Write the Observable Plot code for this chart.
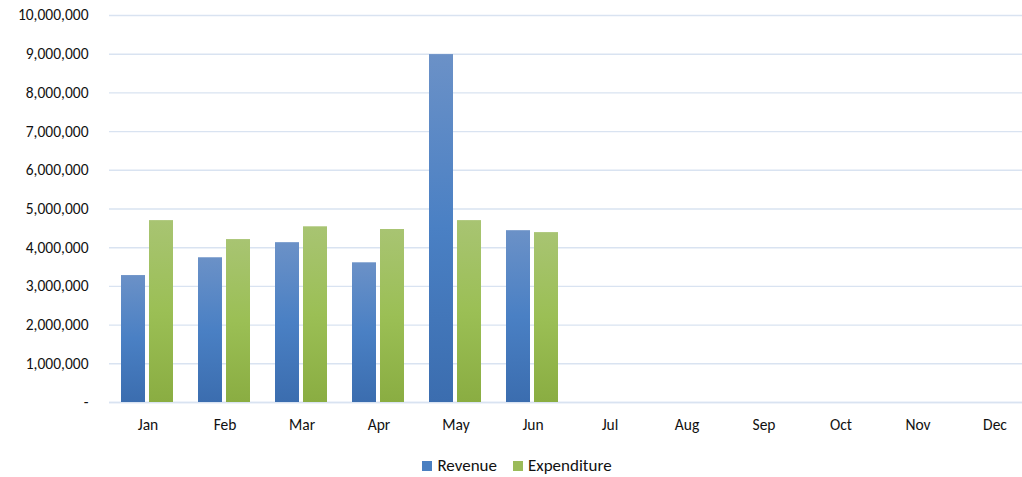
<!DOCTYPE html>
<html>
<head>
<meta charset="utf-8">
<script src="https://cdn.jsdelivr.net/npm/d3@7"></script>
<script src="https://cdn.jsdelivr.net/npm/@observablehq/plot@0.6"></script>
<style>
  html, body { margin: 0; padding: 0; background: #fff; }
  body { width: 1022px; height: 477px; overflow: hidden; font-family: Carlito, Lato, "Open Sans", sans-serif; }
  #legend { height: 37px; display: flex; justify-content: center; align-items: flex-start; padding-top: 15px; box-sizing: border-box; font-size: 17px; color: #111; margin-left: 12px; }
  #legend .item { display: flex; align-items: center; margin: 0 8px; }
  #legend .sw { width: 10px; height: 10px; margin-right: 5px; }
</style>
</head>
<body>
<div id="chart"></div>
<div id="legend"></div>
<script>
const months = ["Jan","Feb","Mar","Apr","May","Jun","Jul","Aug","Sep","Oct","Nov","Dec"];
const dataMonths = ["Jan","Feb","Mar","Apr","May","Jun"];
const series = ["Revenue","Expenditure"];
const revenue = [3280000, 3740000, 4130000, 3610000, 8990000, 4440000];
const expenditure = [4700000, 4210000, 4540000, 4470000, 4700000, 4390000];
const yTicks = [0,1000000,2000000,3000000,4000000,5000000,6000000,7000000,8000000,9000000,10000000];

const colors = {Revenue: "#4a7fc1", Expenditure: "#9bbb59"};
const gradIds = {Revenue: "gradRev", Expenditure: "gradExp"};

const rows = [];
dataMonths.forEach((m, i) => {
  rows.push({month: m, series: "Revenue", value: revenue[i]});
  rows.push({month: m, series: "Expenditure", value: expenditure[i]});
});

const defs = () => {
  const svg = d3.create("svg:defs");
  const g1 = svg.append("linearGradient").attr("id", "gradRev").attr("x1", 0).attr("y1", 0).attr("x2", 0).attr("y2", 1);
  g1.append("stop").attr("offset", "0%").attr("stop-color", "#6b91c7");
  g1.append("stop").attr("offset", "50%").attr("stop-color", "#4a80c4");
  g1.append("stop").attr("offset", "100%").attr("stop-color", "#3b6daf");
  const g2 = svg.append("linearGradient").attr("id", "gradExp").attr("x1", 0).attr("y1", 0).attr("x2", 0).attr("y2", 1);
  g2.append("stop").attr("offset", "0%").attr("stop-color", "#a8c472");
  g2.append("stop").attr("offset", "50%").attr("stop-color", "#9bbf55");
  g2.append("stop").attr("offset", "100%").attr("stop-color", "#8aad42");
  return svg.node();
};

const fmt = d => d === 0 ? "-" : d3.format(",")(d);

const chart = Plot.plot({
  width: 1022,
  height: 440,
  marginLeft: 107,
  marginRight: -13,
  marginTop: 15,
  marginBottom: 38,
  style: {fontFamily: "Carlito, Lato, 'Open Sans', sans-serif", fontSize: "15.5px", color: "#111", background: "#fff"},
  fx: {domain: months, paddingInner: 0, paddingOuter: 0, label: null},
  x: {domain: series, paddingInner: 0.138, paddingOuter: 0.402, axis: null},
  y: {domain: [0, 10000000], label: null},
  marks: [
    defs,
    Plot.gridY(yTicks, {stroke: "#d9e3f1", strokeWidth: 1.4, strokeOpacity: 1}),
    Plot.ruleY(months, {fx: d => d, y: () => 0, stroke: "#d9e3f1", strokeWidth: 1.6}),
    Plot.axisY(yTicks, {tickSize: 0, tickPadding: 21, fontSize: "15.5px", tickFormat: fmt, label: null}),
    Plot.axisFx({anchor: "bottom", tickSize: 0, tickPadding: 16, fontSize: "15.5px", label: null}),
    Plot.barY(rows, {fx: "month", x: "series", y: "value", fill: d => `url(#${gradIds[d.series]})`})
  ]
});
document.getElementById("chart").appendChild(chart);

const legend = document.getElementById("legend");
series.forEach(s => {
  const item = document.createElement("div");
  item.className = "item";
  const sw = document.createElement("div");
  sw.className = "sw";
  sw.style.background = colors[s];
  const t = document.createElement("span");
  t.textContent = s;
  item.appendChild(sw);
  item.appendChild(t);
  legend.appendChild(item);
});
</script>
</body>
</html>
